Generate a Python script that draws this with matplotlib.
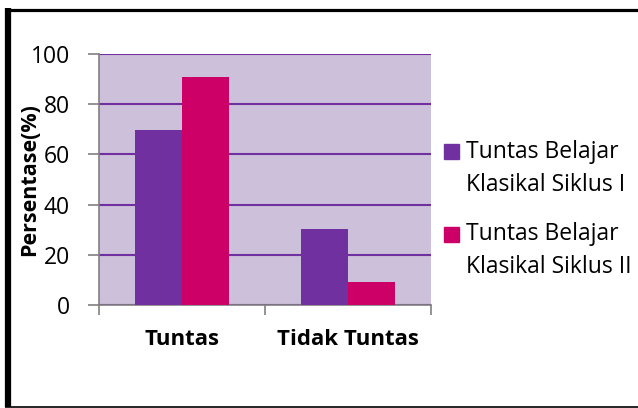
import matplotlib
matplotlib.use("Agg")
import matplotlib.pyplot as plt
import numpy as np
from matplotlib.lines import Line2D
from matplotlib.patches import Rectangle

categories = ["Tuntas", "Tidak Tuntas"]
series_names = ["Tuntas Belajar\nKlasikal Siklus I", "Tuntas Belajar\nKlasikal Siklus II"]
siklus1 = [69.7, 30.3]
siklus2 = [90.7, 9.3]
yticks = [0, 20, 40, 60, 80, 100]
colors = ["#7030A0", "#CC0066"]

plt.rcParams['font.family'] = ['Open Sans', 'DejaVu Sans']

W, H = 638, 408
fig = plt.figure(figsize=(W/100, H/100), dpi=100)
ax = fig.add_axes([99/W, 1-305/H, (431-99)/W, (305-54)/H])
ax.set_facecolor("#CCC0DA")

x = np.arange(len(categories))
bw = 0.283
ax.bar(x - bw/2, siklus1, bw, color=colors[0], zorder=3)
ax.bar(x + bw/2, siklus2, bw, color=colors[1], zorder=3)

ax.set_xlim(-0.5, len(categories) - 0.5)
ax.set_ylim(0, 100)
ax.set_yticks(yticks)
ax.set_yticklabels([str(v) for v in yticks], fontsize=16.5)
ax.yaxis.grid(True, color="#7030A0", linewidth=1.5, zorder=1)
ax.set_axisbelow(True)

ax.set_xticks(x)
ax.set_xticklabels(categories, fontsize=16, fontweight="bold")
ax.set_xticks(np.arange(-0.5, len(categories)), minor=True)
ax.tick_params(axis="x", which="major", length=0, pad=17)
ax.tick_params(axis="x", which="minor", length=7, color="#808080", width=1.2, direction="out")
ax.tick_params(axis="y", length=8, color="#808080", width=1.2, pad=13)

for s in ["top", "right"]:
    ax.spines[s].set_visible(False)
for s in ["left", "bottom"]:
    ax.spines[s].set_color("#808080")
    ax.spines[s].set_linewidth(1.2)

ax.set_ylabel("Persentase(%)", fontsize=15.5, fontweight="bold")
ax.yaxis.set_label_coords((40-99)/(431-99), 0.5)

# legend (manual so swatches align with first line)
leg_y = [152, 234]
for i, name in enumerate(series_names):
    yc = leg_y[i]
    fig.add_artist(Rectangle((444/W, 1-(yc+7.5)/H), 15/W, 15/H, color=colors[i],
                             transform=fig.transFigure))
    fig.text(466/W, 1-(yc-12)/H, name, fontsize=16.5, va="top", ha="left",
             linespacing=1.5)

# frame
fig.add_artist(Line2D([8/W, 8/W], [1-8/H, 1-407/H], color="black", linewidth=4.5,
                      transform=fig.transFigure, solid_capstyle="butt"))
fig.add_artist(Line2D([5/W, 1.0], [1-9.5/H, 1-9.5/H], color="black", linewidth=2.3,
                      transform=fig.transFigure, solid_capstyle="butt"))
fig.add_artist(Line2D([5/W, 1.0], [1-406.5/H, 1-406.5/H], color="black", linewidth=1.2,
                      transform=fig.transFigure, solid_capstyle="butt"))

fig.savefig("out.png", dpi=100)
